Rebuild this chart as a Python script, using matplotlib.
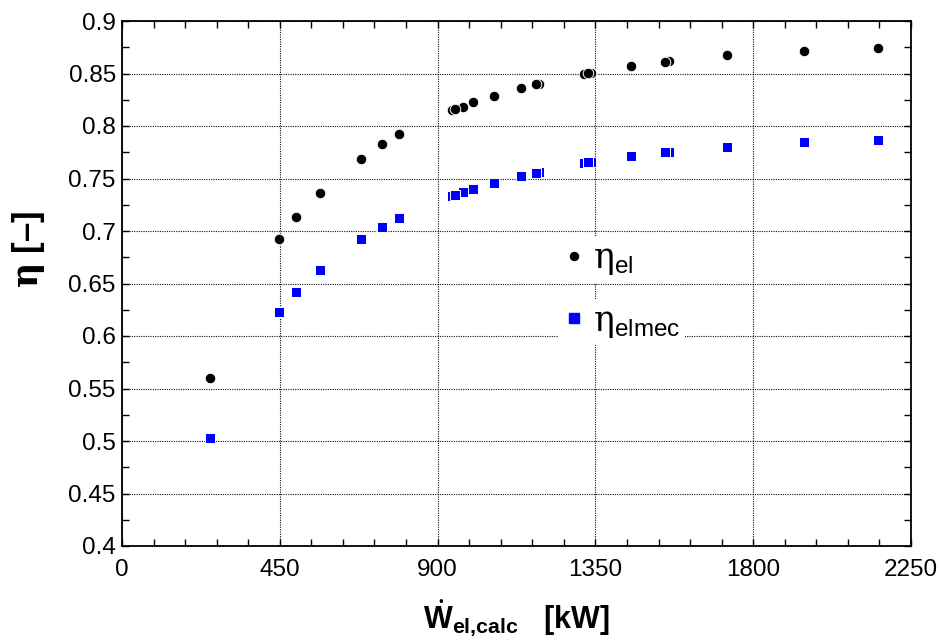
import matplotlib
matplotlib.use("Agg")
import matplotlib.pyplot as plt
from matplotlib.lines import Line2D
from matplotlib.ticker import MultipleLocator, FuncFormatter

plt.rcParams["font.family"] = ["Liberation Sans", "DejaVu Sans"]
plt.rcParams["mathtext.fontset"] = "custom"
plt.rcParams["mathtext.rm"] = "DejaVu Serif"
plt.rcParams["mathtext.it"] = "DejaVu Serif:bold"
plt.rcParams["mathtext.bf"] = "Liberation Sans:bold"
plt.rcParams["mathtext.sf"] = "Liberation Sans"

# Electrical power output [kW] and efficiencies (operating points)
w_el_calc = [250, 449, 497, 564, 681, 742, 791,
             940, 973, 951, 1002, 1060, 1138, 1190, 1180,
             1318, 1338, 1328, 1452, 1559, 1549, 1724, 1945, 2157]
eta_el = [0.5597, 0.6927, 0.7130, 0.7366, 0.7690, 0.7830, 0.7928,
          0.8148, 0.8184, 0.8159, 0.8229, 0.8289, 0.8359, 0.8404, 0.8400,
          0.8500, 0.8505, 0.8502, 0.8571, 0.8618, 0.8612, 0.8673, 0.8717, 0.8740]
eta_elmec = [0.5032, 0.6229, 0.6416, 0.6626, 0.6920, 0.7042, 0.7128,
             0.7335, 0.7371, 0.7343, 0.7397, 0.7454, 0.7521, 0.7558, 0.7556,
             0.7652, 0.7656, 0.7654, 0.7711, 0.7752, 0.7750, 0.7800, 0.7845, 0.7864]

x_ticks = [0, 450, 900, 1350, 1800, 2250]
y_ticks = [0.4, 0.45, 0.5, 0.55, 0.6, 0.65, 0.7, 0.75, 0.8, 0.85, 0.9]

fig = plt.figure(figsize=(9.42, 6.41), dpi=100)
ax = fig.add_axes([122 / 942, 1 - 546 / 641, (911 - 122) / 942, (546 - 21) / 641])

ax.plot(w_el_calc, eta_el, ls="none", marker="o", ms=7.6, mfc="black",
        mec="white", mew=0.7, zorder=3)
ax.plot(w_el_calc, eta_elmec, ls="none", marker="s", ms=7.6, mfc="#0000ff",
        mec="white", mew=0.7, zorder=3)

ax.set_xlim(0, 2250)
ax.set_ylim(0.4, 0.9)
ax.set_xticks(x_ticks)
ax.set_yticks(y_ticks)
ax.xaxis.set_minor_locator(MultipleLocator(90))
ax.yaxis.set_minor_locator(MultipleLocator(0.025))
ax.yaxis.set_major_formatter(FuncFormatter(lambda v, p: f"{v:g}"))

ax.tick_params(which="both", direction="in", top=True, right=True,
               length=5, width=1, color="black")
ax.tick_params(axis="x", which="major", labelsize=17.5, pad=9)
ax.tick_params(axis="y", which="major", labelsize=17.5, pad=4.5)

ax.grid(True, which="major", color="#111111", linestyle=(0, (1, 1.1)), linewidth=0.8)
ax.set_axisbelow(True)
for sp in ax.spines.values():
    sp.set_linewidth(1.3)
    sp.set_color("black")

ax.set_ylabel(r"$\eta$ [–]", fontsize=25, fontweight="bold")
ax.yaxis.set_label_coords(-0.095, 0.565)
ax.set_xlabel(r"$\dot{\mathbf{W}}_{\mathbf{el{,}calc}}$   [kW]", fontsize=22,
              fontweight="bold")
ax.xaxis.set_label_coords(0.5, -0.098)

common = dict(loc="center left", frameon=True, facecolor="white",
              edgecolor="none", framealpha=1, fancybox=False, fontsize=25,
              borderpad=0.15, borderaxespad=0, handlelength=0.6,
              handletextpad=0.25)
leg1 = ax.legend(handles=[Line2D([], [], ls="none", marker="o", ms=5.8,
                                 mfc="black", mec="black")],
                 labels=[r"$\mathrm{\eta}_{\mathsf{el}}$"],
                 bbox_to_anchor=(0.5526, 0.545), **common)
leg1.set_zorder(4)
ax.add_artist(leg1)
leg2 = ax.legend(handles=[Line2D([], [], ls="none", marker="s", ms=7,
                                 mfc="#0000ff", mec="#0000ff")],
                 labels=[r"$\mathrm{\eta}_{\mathsf{elmec}}$"],
                 bbox_to_anchor=(0.5526, 0.4265), **common)
leg2.set_zorder(4)

fig.savefig("out.png", dpi=100)
